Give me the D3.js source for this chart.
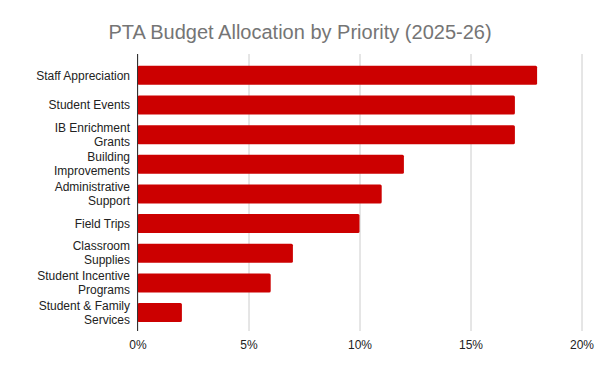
<!DOCTYPE html>
<html>
<head>
<meta charset="utf-8">
<script src="https://cdn.jsdelivr.net/npm/d3@7"></script>
<style>
  body { margin: 0; background: #fff; }
  text { font-family: "Liberation Sans", Arial, sans-serif; }
</style>
</head>
<body>
<div id="chart"></div>
<script>
// Budget share per priority, in percent
const categories = [
    "Staff Appreciation",
    "Student Events",
    "IB Enrichment\nGrants",
    "Building\nImprovements",
    "Administrative\nSupport",
    "Field Trips",
    "Classroom\nSupplies",
    "Student Incentive\nPrograms",
    "Student & Family\nServices"
];
const shares = [18, 17, 17, 12, 11, 10, 7, 6, 2];
const tickValues = [0, 5, 10, 15, 20];

const width = 600, height = 370;

const svg = d3.select('#chart').append('svg')
    .attr('width', width)
    .attr('height', height);

svg.append('rect')
    .attr('width', width)
    .attr('height', height)
    .attr('fill', '#fff');

svg.append('text')
    .attr('x', 300)
    .attr('y', 38.5)
    .attr('text-anchor', 'middle')
    .attr('fill', '#757575')
    .style('font-size', '20px')
    .text('PTA Budget Allocation by Priority (2025-26)');

const data = categories.map((c, i) => ({ label: c, value: shares[i] }));

const xScale = d3.scaleLinear()
    .domain([0, 20])
    .range([137.5, 581.5]);

const yScale = d3.scaleBand()
    .domain(categories)
    .range([60.5, 327.4])
    .paddingInner(0.36)
    .paddingOuter(0.18);

// gridlines
const xAxis = d3.axisBottom(xScale)
    .tickValues(tickValues)
    .tickSize(-(331 - 54))
    .tickPadding(9)
    .tickFormat(d => d + '%');

const gx = svg.append('g')
    .attr('transform', 'translate(0,331)')
    .call(xAxis);
gx.select('.domain').remove();
gx.selectAll('.tick line').attr('stroke', '#cccccc');
gx.selectAll('.tick text')
    .attr('fill', '#222')
    .style('font-size', '12px')
    .style('font-family', '"Liberation Sans", Arial, sans-serif');

// bars
svg.append('g').selectAll('rect')
    .data(data)
    .join('rect')
    .attr('x', xScale(0))
    .attr('y', d => yScale(d.label))
    .attr('width', d => xScale(d.value) - xScale(0))
    .attr('height', yScale.bandwidth())
    .attr('rx', 1.5)
    .attr('fill', '#cc0000');

// left axis line
svg.append('line')
    .attr('x1', xScale(0))
    .attr('x2', xScale(0))
    .attr('y1', 54)
    .attr('y2', 331)
    .attr('stroke', '#333')
    .attr('stroke-width', 1);

// category labels, wrapped on \n
const labels = svg.append('g').selectAll('text')
    .data(data)
    .join('text')
    .attr('text-anchor', 'end')
    .attr('fill', '#222')
    .style('font-size', '12px');

labels.each(function(d) {
    const lines = d.label.split('\n');
    const cy = yScale(d.label) + yScale.bandwidth() / 2;
    const lh = 14;
    const t = d3.select(this);
    lines.forEach((ln, i) => {
        t.append('tspan')
            .attr('x', 130)
            .attr('y', cy + (i - (lines.length - 1) / 2) * lh)
            .attr('dy', '0.35em')
            .text(ln);
    });
});
</script>
</body>
</html>
